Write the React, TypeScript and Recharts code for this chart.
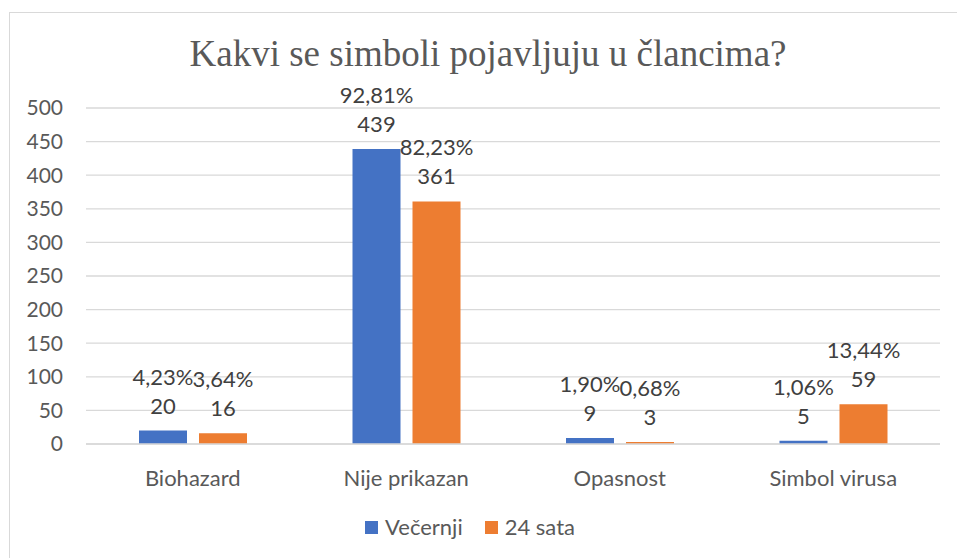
import { BarChart, Bar, XAxis, YAxis, CartesianGrid, Legend } from "recharts";

const categories = ["Biohazard", "Nije prikazan", "Opasnost", "Simbol virusa"];
const vecernji = [20, 439, 9, 5];
const sata24 = [16, 361, 3, 59];
const vecernjiPct = ["4,23%", "92,81%", "1,90%", "1,06%"];
const sata24Pct = ["3,64%", "82,23%", "0,68%", "13,44%"];
const yTicks = [0, 50, 100, 150, 200, 250, 300, 350, 400, 450, 500];

const data = categories.map((name, i) => ({
  name,
  vecernji: vecernji[i],
  sata24: sata24[i],
}));

const FONT = "Lato, 'Open Sans', sans-serif";
const BLUE = "#4472C4";
const ORANGE = "#ED7D31";

// two-line label: percentage on top, count below
function makeLabel(pcts: string[]) {
  return (props: any) => {
    const { x, y, width, value, index } = props;
    const cx = x + width / 2;
    const base = y - 17;
    return (
      <g>
        <text x={cx} y={base - 29} textAnchor="middle" fill="#404040" fontSize={22} fontFamily={FONT}>
          {pcts[index]}
        </text>
        <text x={cx} y={base} textAnchor="middle" fill="#404040" fontSize={22} fontFamily={FONT}>
          {value}
        </text>
      </g>
    );
  };
}

function LegendContent() {
  const items = [
    { name: "Večernji", color: BLUE },
    { name: "24 sata", color: ORANGE },
  ];
  return (
    <div style={{ display: "flex", justifyContent: "center", gap: 22, fontFamily: FONT, fontSize: 22, color: "#595959", lineHeight: "26px" }}>
      {items.map((it) => (
        <div key={it.name} style={{ display: "flex", alignItems: "center", gap: 7 }}>
          <span style={{ display: "inline-block", width: 13, height: 13, background: it.color }} />
          <span>{it.name}</span>
        </div>
      ))}
    </div>
  );
}

export default function App() {
  return (
    <div style={{ position: "absolute", left: 0, top: 0, width: 957, height: 558, background: "#fff", overflow: "hidden" }}>
      <div
        style={{
          position: "absolute",
          left: 9,
          top: 12,
          width: 980,
          height: 600,
          border: "1px solid #d9d9d9",
        }}
      />
      <div
        style={{
          position: "absolute",
          left: 0,
          width: 976,
          top: 32,
          textAlign: "center",
          fontFamily: "'Liberation Serif', 'Times New Roman', serif",
          fontSize: 37,
          color: "#595959",
          lineHeight: "44px",
        }}
      >
        Kakvi se simboli pojavljuju u člancima?
      </div>
      <div style={{ position: "absolute", left: 0, top: 0 }}>
        <BarChart
          width={957}
          height={558}
          data={data}
          margin={{ top: 108, right: 17, left: 0, bottom: 58 }}
          barSize={48}
          barGap={12}
        >
          <CartesianGrid vertical={false} stroke="#d9d9d9" strokeWidth={1.3} />
          <XAxis
            dataKey="name"
            axisLine={{ stroke: "#d9d9d9", strokeWidth: 1.5 }}
            tickLine={false}
            tickMargin={20}
            height={30}
            tick={{ fill: "#595959", fontSize: 22, fontFamily: FONT }}
          />
          <YAxis
            width={86}
            domain={[0, 500]}
            ticks={yTicks}
            interval={0}
            axisLine={false}
            tickLine={false}
            tickMargin={17}
            tick={{ fill: "#595959", fontSize: 21, fontFamily: FONT }}
          />
          <Legend verticalAlign="bottom" content={<LegendContent />} wrapperStyle={{ bottom: 18 }} />
          <Bar dataKey="vecernji" name="Večernji" fill={BLUE} isAnimationActive={false} label={makeLabel(vecernjiPct)} />
          <Bar dataKey="sata24" name="24 sata" fill={ORANGE} isAnimationActive={false} label={makeLabel(sata24Pct)} />
        </BarChart>
      </div>
    </div>
  );
}
